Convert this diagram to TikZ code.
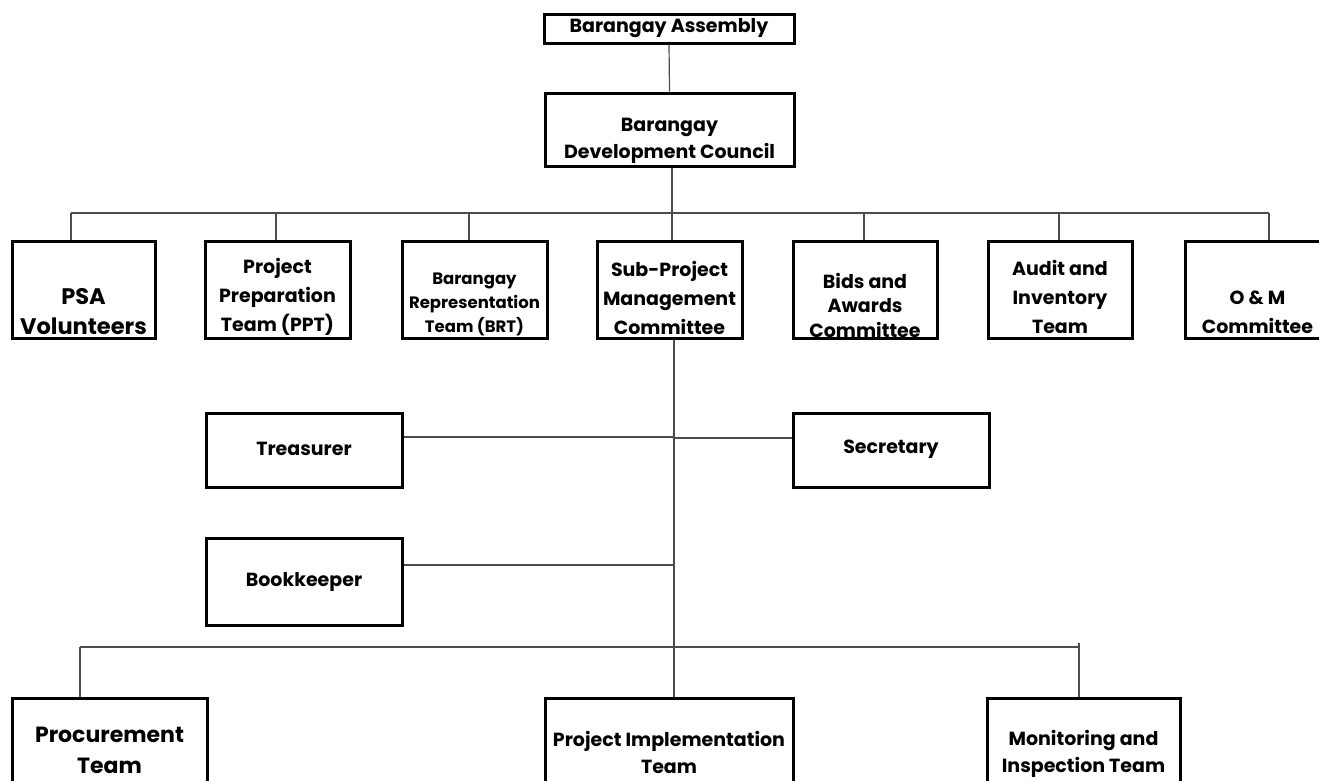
\documentclass[tikz,border=0pt]{standalone}
\usepackage{fontspec}
\setmainfont{Poppins}
\begin{document}
\begin{tikzpicture}[x=1pt,y=-1pt,
  box/.style={draw=black,line width=3pt,inner sep=0pt,fill=none},
  conn/.style={draw=black!70,line width=1.2pt},
  txt/.style={align=center,inner sep=0pt,font=\bfseries\fontsize{19}{29}\selectfont},
  txtbig/.style={align=center,inner sep=0pt,font=\bfseries\fontsize{22.5}{30}\selectfont},
  txtsmall/.style={align=center,inner sep=0pt,font=\bfseries\fontsize{16.5}{24}\selectfont}]
\useasboundingbox (0,0) rectangle (1319,780);
\clip (0,0) rectangle (1319,780);
% boxes
\node[box,minimum width=250pt,minimum height=29pt] (ba) at (669,28.5) {};
\node[box,minimum width=249pt,minimum height=73pt] (bdc) at (669.5,129.5) {};
\node[box,minimum width=143pt,minimum height=97pt] (psa) at (83.5,289.5) {};
\node[box,minimum width=145pt,minimum height=97pt] (ppt) at (277.5,289.5) {};
\node[box,minimum width=145pt,minimum height=97pt] (brt) at (474.5,289.5) {};
\node[box,minimum width=145pt,minimum height=97pt] (spmc) at (669.5,289.5) {};
\node[box,minimum width=144pt,minimum height=97pt] (bids) at (865,289.5) {};
\node[box,minimum width=144pt,minimum height=97pt] (audit) at (1060,289.5) {};
\node[box,minimum width=145pt,minimum height=97pt] (om) at (1257.5,289.5) {};
\node[box,minimum width=196pt,minimum height=74pt] (treas) at (304,450) {};
\node[box,minimum width=196pt,minimum height=74pt] (sec) at (891,450) {};
\node[box,minimum width=196pt,minimum height=87pt] (book) at (304,581.5) {};
\node[box,minimum width=195pt,minimum height=102pt] (proc) at (109.5,749) {};
\node[box,minimum width=248pt,minimum height=102pt] (pit) at (669,749) {};
\node[box,minimum width=193pt,minimum height=102pt] (mon) at (1083.5,749) {};
% texts
\node[txt] (tba) at (669,28) {Barangay Assembly};
\node[txt,font=\bfseries\fontsize{19}{27}\selectfont] (tbdc) at (669.5,141) {Barangay\\Development Council};
\node[txtbig] (tpsa) at (83.5,312) {PSA\\Volunteers};
\node[txt] (tppt) at (277.5,297) {Project\\Preparation\\Team (PPT)};
\node[txtsmall] (tbrt) at (474.5,304) {Barangay\\Representation\\Team (BRT)};
\node[txt] (tspmc) at (669.5,298) {Sub-Project\\Management\\Committee};
\node[txt,font=\bfseries\fontsize{19}{24.5}\selectfont] (tbids) at (865,305) {Bids and\\Awards\\Committee};
\node[txt] (taudit) at (1060,297) {Audit and\\Inventory\\Team};
\node[txt] (tom) at (1257.5,312) {O \& M\\Committee};
\node[txt] (ttreas) at (304,449) {Treasurer};
\node[txt] (tsec) at (891,449) {Secretary};
\node[txt] (tbook) at (304,582) {Bookkeeper};
\node[txt,font=\bfseries\fontsize{22}{31}\selectfont] (tproc) at (109.5,750) {Procurement\\Team};
\node[txt,font=\bfseries\fontsize{19}{27}\selectfont] (tpit) at (669,752) {Project Implementation\\Team};
\node[txt,font=\bfseries\fontsize{19}{27}\selectfont] (tmon) at (1083.5,754) {Monitoring and\\Inspection Team};
% bus coordinates
\coordinate (busL) at (71,213);
\coordinate (busR) at (1269,213);
\coordinate (bPPT) at (276,213);
\coordinate (bBRT) at (469,213);
\coordinate (bSP) at (672,213);
\coordinate (bBID) at (864,213);
\coordinate (bAUD) at (1059,213);
\coordinate (spx) at (674,338);
\coordinate (lowL) at (80,647);
\coordinate (lowR) at (1079,647);
\coordinate (lowRtop) at (1079,643);
% connectors
\draw[conn] (ba.south) -- (bdc.north);
\draw[conn] (bdc.south -| bSP) -- (bSP);
\draw[conn] (busL) -- (busR);
\draw[conn] (busL) -- (busL |- psa.north);
\draw[conn] (bPPT) -- (bPPT |- ppt.north);
\draw[conn] (bBRT) -- (bBRT |- brt.north);
\draw[conn] (bSP) -- (bSP |- spmc.north);
\draw[conn] (bBID) -- (bBID |- bids.north);
\draw[conn] (bAUD) -- (bAUD |- audit.north);
\draw[conn] (busR) -- (busR |- om.north);
\draw[conn] (spmc.south -| spx) -- (pit.north -| spx);
\draw[conn] (treas.east) ++(0,-13) -- (spx |- 0,437);
\draw[conn] (sec.west) ++(0,-12) -- (spx |- 0,438);
\draw[conn] (book.east) ++(0,-16.5) -- (spx |- 0,565);
\draw[conn] (lowL) -- (lowR);
\draw[conn] (lowL) -- (lowL |- proc.north);
\draw[conn] (lowRtop) -- (lowRtop |- mon.north);
\end{tikzpicture}
\end{document}
